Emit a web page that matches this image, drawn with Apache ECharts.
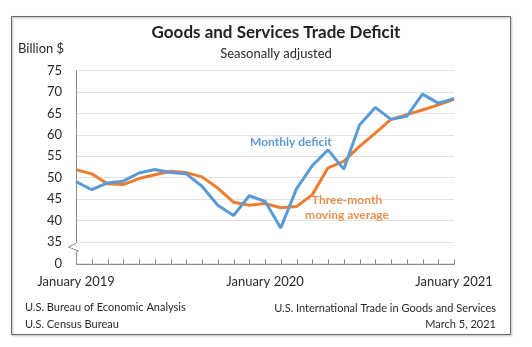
<!DOCTYPE html>
<html>
<head>
<meta charset="utf-8">
<script src="https://cdn.jsdelivr.net/npm/echarts@6/dist/echarts.min.js"></script>
<style>
  html, body { margin: 0; padding: 0; background: #fff; }
  #chart { width: 532px; height: 347px; }
</style>
</head>
<body>
<div id="chart"></div>
<script>
// Months from January 2019 through January 2021
const months = [
  '2019-01','2019-02','2019-03','2019-04','2019-05','2019-06','2019-07','2019-08','2019-09','2019-10','2019-11','2019-12',
  '2020-01','2020-02','2020-03','2020-04','2020-05','2020-06','2020-07','2020-08','2020-09','2020-10','2020-11','2020-12',
  '2021-01'
];
// Goods and services deficit, billions of dollars
const monthlyDeficit = [
  49.1, 47.2, 48.8, 49.2, 51.1, 51.9, 51.2, 50.9, 48.0, 43.6, 41.2, 45.8,
  44.5, 38.3, 47.4, 52.8, 56.5, 52.0, 62.3, 66.4, 63.6, 64.3, 69.5, 67.4,
  68.4
];
const threeMonthAverage = [
  51.9, 50.9, 48.6, 48.4, 49.8, 50.7, 51.5, 51.2, 50.2, 47.6, 44.3, 43.6,
  44.0, 43.0, 43.3, 46.0, 52.3, 53.8, 57.3, 60.4, 63.6, 64.7, 65.8, 67.0,
  68.3
];
const xTickLabels = { '2019-01': 'January 2019', '2020-01': 'January 2020', '2021-01': 'January 2021' };
// The value axis is broken below 35; its bottom position reads as zero
const yAxisBottom = 30;
const yBottomLabel = '0';

const FONT = 'Lato, "Open Sans", sans-serif';
const BLUE = '#5b9bd5';
const ORANGE = '#ed7d31';
const AXIS_GREY = '#8a8a8a';

const chart = echarts.init(document.getElementById('chart'), null, { renderer: 'canvas' });

const option = {
  animation: false,
  textStyle: { fontFamily: FONT },
  grid: { left: 76, right: 78, top: 70.5, bottom: 83.5, containLabel: false },
  xAxis: {
    type: 'category',
    data: months,
    boundaryGap: false,
    axisLine: { show: false },
    axisTick: { show: false },
    axisLabel: {
      interval: 0,
      margin: 12,
      color: '#2a2a2a',
      fontSize: 13,
      fontFamily: FONT,
      formatter: v => xTickLabels[v] || ''
    },
    splitLine: { show: false }
  },
  yAxis: {
    type: 'value',
    min: yAxisBottom,
    max: 75,
    interval: 5,
    axisLine: { show: false },
    axisTick: { show: false },
    axisLabel: {
      color: '#2a2a2a',
      fontSize: 13,
      margin: 14,
      fontFamily: FONT,
      formatter: v => (v === yAxisBottom ? yBottomLabel : String(v))
    },
    splitLine: {
      show: true,
      lineStyle: { color: '#e3e3e3', width: 1 }
    }
  },
  series: [
    {
      name: 'Three-month moving average',
      type: 'line',
      data: threeMonthAverage,
      symbol: 'none',
      lineStyle: { color: ORANGE, width: 3 },
      z: 2
    },
    {
      name: 'Monthly deficit',
      type: 'line',
      data: monthlyDeficit,
      symbol: 'none',
      lineStyle: { color: BLUE, width: 3 },
      z: 3
    }
  ]
};
chart.setOption(option);

// Axis frame: vertical line with a break mark just below 35,
// then the horizontal line with an upward tick at every month
const px = (i, v) => chart.convertToPixel({ gridIndex: 0 }, [i, v]);
const axisTop = px(0, 75);
const y35 = px(0, 35)[1];
const yb = Math.round(px(0, yAxisBottom)[1]) + 0.5;
const x0 = Math.round(axisTop[0]) + 0.5;

const axisPoints = [
  [x0, axisTop[1]], [x0, y35 + 1], [x0 - 8, y35 + 5], [x0 + 2, y35 + 9], [x0, y35 + 10], [x0, yb]
];
months.forEach((m, i) => {
  const x = Math.round(px(i, yAxisBottom)[0]) + 0.5;
  axisPoints.push([x, yb]);
  if (i > 0) {
    axisPoints.push([x, yb - 5]);
    axisPoints.push([x, yb]);
  }
});

chart.setOption({
  graphic: [
    {
      type: 'rect',
      shape: { x: 11.5, y: 16.5, width: 499, height: 318 },
      style: { fill: 'none', stroke: '#6a6a6a', lineWidth: 1,
        shadowColor: 'rgba(0,0,0,0.35)', shadowBlur: 2, shadowOffsetX: 1, shadowOffsetY: 1 },
      silent: true
    },
    {
      type: 'polyline',
      shape: { points: axisPoints },
      style: { stroke: AXIS_GREY, lineWidth: 1, fill: 'none', lineJoin: 'miter' },
      silent: true,
      z: 10
    },
    {
      type: 'text', x: 276, y: 24,
      style: { text: 'Goods and Services Trade Deficit', font: 'bold 17px ' + FONT, fill: '#222', textAlign: 'center' }
    },
    {
      type: 'text', x: 276, y: 47,
      style: { text: 'Seasonally adjusted', font: '13px ' + FONT, fill: '#2a2a2a', textAlign: 'center' }
    },
    {
      type: 'text', x: 18, y: 42,
      style: { text: 'Billion $', font: '13px ' + FONT, fill: '#2a2a2a' }
    },
    {
      type: 'text', x: 250, y: 136,
      style: { text: 'Monthly deficit', font: 'bold 12px ' + FONT, fill: BLUE }
    },
    {
      type: 'text', x: 347, y: 193,
      style: { text: 'Three-month\nmoving average', font: 'bold 12px ' + FONT, fill: '#e8904f',
        textAlign: 'center', lineHeight: 15 }
    },
    {
      type: 'text', x: 25, y: 299,
      style: { text: 'U.S. Bureau of Economic Analysis\nU.S. Census Bureau', font: '11px ' + FONT,
        fill: '#2a2a2a', lineHeight: 17 }
    },
    {
      type: 'text', x: 496, y: 300,
      style: { text: 'U.S. International Trade in Goods and Services\nMarch 5, 2021', font: '11px ' + FONT,
        fill: '#2a2a2a', textAlign: 'right', lineHeight: 16 }
    }
  ]
});
</script>
</body>
</html>
